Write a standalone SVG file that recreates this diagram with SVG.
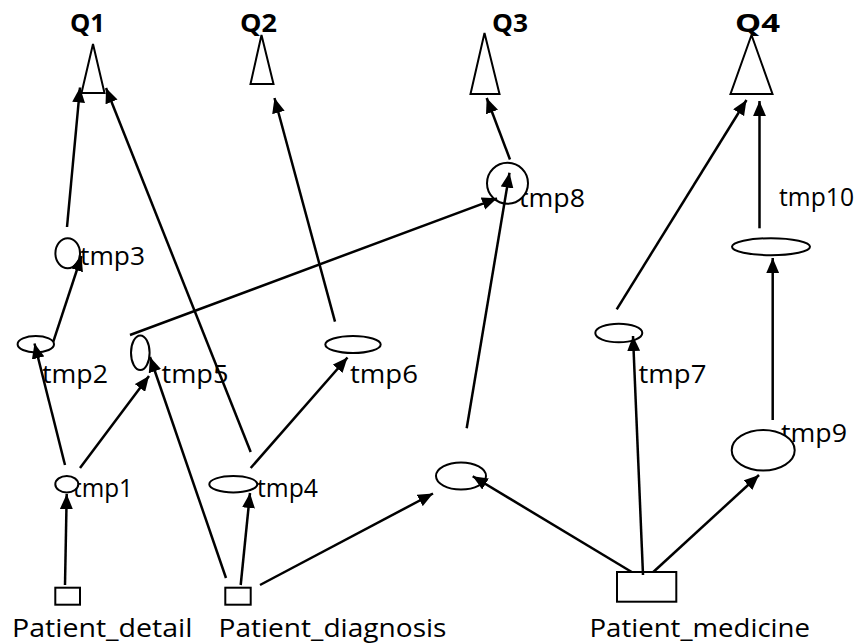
<svg xmlns="http://www.w3.org/2000/svg" width="859" height="644" viewBox="0 0 859 644">
<style>
.sh{fill:#fff;stroke:#000;stroke-width:2}
.lb{font-family:"Open Sans","Liberation Sans",sans-serif;font-size:26px;fill:#000}
.pl{font-family:"Open Sans","Liberation Sans",sans-serif;font-size:25px;fill:#000}
.q{font-family:"Open Sans","Liberation Sans",sans-serif;font-size:25px;font-weight:bold;fill:#000}
.c{stroke:#000;stroke-width:2.5;fill:none;marker-end:url(#ah)}
</style>
<defs>
<marker id="ah" viewBox="0 0 14 12" markerWidth="15" markerHeight="13" refX="14" refY="6" orient="auto" markerUnits="userSpaceOnUse">
<path d="M0,0 L14,6 L0,12 z" fill="#000"/>
</marker>
</defs>
<rect width="859" height="644" fill="#fff"/>
<g id="Q1"><text class="q" x="70" y="32" textLength="35" lengthAdjust="spacingAndGlyphs">Q1</text><polygon class="sh" points="93,44 81.5,93 104.5,93"/></g>
<g id="Q2"><text class="q" x="240" y="32" textLength="37" lengthAdjust="spacingAndGlyphs">Q2</text><polygon class="sh" points="261.5,35 250.5,84 273.5,84"/></g>
<g id="Q3"><text class="q" x="492" y="32" textLength="36" lengthAdjust="spacingAndGlyphs">Q3</text><polygon class="sh" points="484.5,33 470.5,94 499.5,94"/></g>
<g id="Q4"><text class="q" x="735" y="32" textLength="45" lengthAdjust="spacingAndGlyphs">Q4</text><polygon class="sh" points="751.5,35 730.5,94 772.5,94"/></g>
<g id="tmp1"><text class="lb" x="73" y="497" textLength="60" lengthAdjust="spacingAndGlyphs">tmp1</text><ellipse class="sh" cx="66.8" cy="484.2" rx="11.5" ry="8.2"/></g>
<g id="tmp2"><text class="lb" x="42" y="383" textLength="66" lengthAdjust="spacingAndGlyphs">tmp2</text><ellipse class="sh" cx="35.8" cy="344.2" rx="18.2" ry="8.2"/></g>
<g id="tmp3"><text class="lb" x="80" y="265" textLength="65" lengthAdjust="spacingAndGlyphs">tmp3</text><ellipse class="sh" cx="67.7" cy="253.3" rx="12.3" ry="15"/></g>
<g id="tmp4"><text class="lb" x="257" y="497" textLength="61" lengthAdjust="spacingAndGlyphs">tmp4</text><ellipse class="sh" cx="233.3" cy="484.2" rx="24" ry="8.2"/></g>
<g id="tmp5"><text class="lb" x="161.5" y="383" textLength="67" lengthAdjust="spacingAndGlyphs">tmp5</text><ellipse class="sh" cx="140.3" cy="352.7" rx="9.3" ry="17.3"/></g>
<g id="tmp6"><text class="lb" x="350" y="383" textLength="68" lengthAdjust="spacingAndGlyphs">tmp6</text><ellipse class="sh" cx="353" cy="344.5" rx="27.7" ry="8.5"/></g>
<g id="tmp7"><text class="lb" x="638.5" y="383" textLength="68" lengthAdjust="spacingAndGlyphs">tmp7</text><ellipse class="sh" cx="618.8" cy="333" rx="23.5" ry="9.3"/></g>
<g id="tmp8"><text class="lb" x="519" y="206.5" textLength="66" lengthAdjust="spacingAndGlyphs">tmp8</text><circle class="sh" cx="507.5" cy="183.3" r="20.5"/></g>
<g id="tmp9"><text class="lb" x="781" y="441.5" textLength="66" lengthAdjust="spacingAndGlyphs">tmp9</text><ellipse class="sh" cx="763.2" cy="450.3" rx="31.5" ry="20.3"/></g>
<g id="tmp10"><text class="lb" x="779" y="206" textLength="75" lengthAdjust="spacingAndGlyphs">tmp10</text><ellipse class="sh" cx="771" cy="246.7" rx="39" ry="8.5"/></g>
<g id="anon"><ellipse class="sh" cx="461" cy="476" rx="25" ry="13.5"/></g>
<g id="Patient_detail"><rect class="sh" x="55.3" y="587.7" width="24.7" height="17"/><text class="pl" x="12" y="636.5" textLength="180.5" lengthAdjust="spacingAndGlyphs">Patient_detail</text></g>
<g id="Patient_diagnosis"><rect class="sh" x="225.3" y="587.7" width="25.4" height="17"/><text class="pl" x="218.5" y="636.5" textLength="228" lengthAdjust="spacingAndGlyphs">Patient_diagnosis</text></g>
<g id="Patient_medicine"><rect class="sh" x="617" y="572" width="59.3" height="29.7"/><text class="pl" x="589.5" y="636.5" textLength="220.5" lengthAdjust="spacingAndGlyphs">Patient_medicine</text></g>
<g id="connectors">
<line class="c" x1="65" y1="585" x2="66.7" y2="494"/>
<line class="c" x1="65" y1="465" x2="34.5" y2="343.5"/>
<line class="c" x1="80" y1="468" x2="149" y2="376"/>
<line class="c" x1="53.3" y1="341.7" x2="81.5" y2="256"/>
<line class="c" x1="67" y1="227" x2="80" y2="87.5"/>
<line class="c" x1="226" y1="578" x2="150" y2="357"/>
<line class="c" x1="240.7" y1="585" x2="250" y2="493"/>
<line class="c" x1="260" y1="585" x2="433" y2="493.5"/>
<line class="c" x1="250.7" y1="452" x2="106" y2="88"/>
<line class="c" x1="250.7" y1="468" x2="347.5" y2="357.5"/>
<line class="c" x1="335" y1="321.7" x2="274.5" y2="98"/>
<line class="c" x1="130" y1="335" x2="497" y2="198.3"/>
<line class="c" x1="466.7" y1="428.3" x2="509.5" y2="172.7"/>
<line class="c" x1="510" y1="159.5" x2="486.7" y2="98"/>
<line class="c" x1="616.7" y1="309.3" x2="746.5" y2="100"/>
<line class="c" x1="759.5" y1="228.3" x2="759.5" y2="101"/>
<line class="c" x1="772.7" y1="420" x2="772.7" y2="258"/>
<line class="c" x1="643" y1="575" x2="633" y2="336"/>
<line class="c" x1="631.7" y1="572" x2="472.7" y2="476.3"/>
<line class="c" x1="653.3" y1="572" x2="759" y2="475"/>
</g>
</svg>
